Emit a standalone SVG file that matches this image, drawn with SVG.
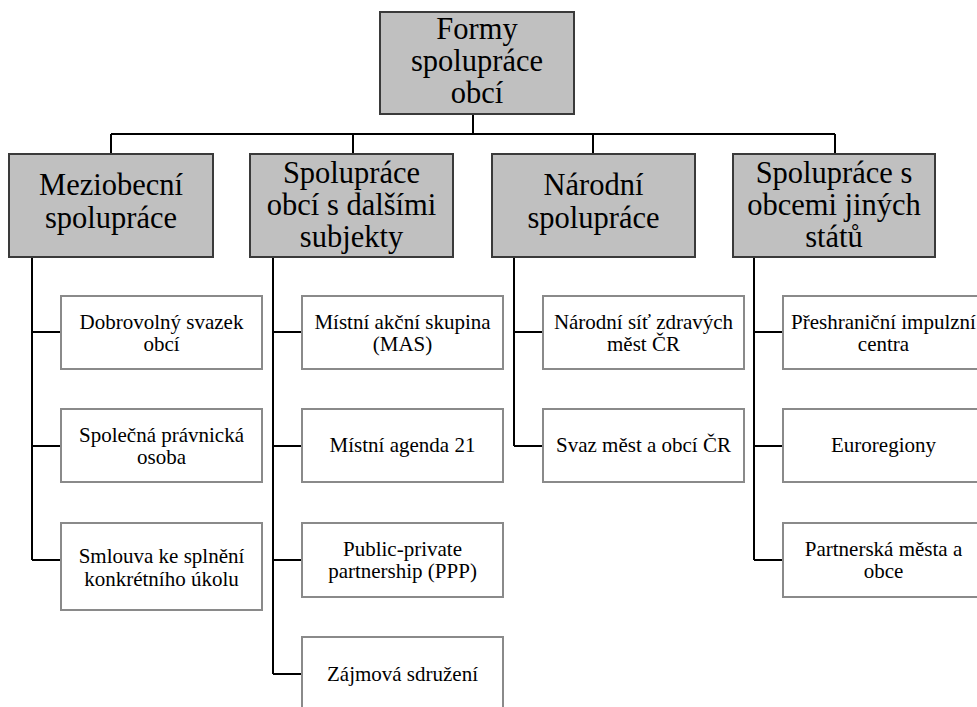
<svg xmlns="http://www.w3.org/2000/svg" width="977" height="707" viewBox="0 0 977 707">
<style>
.h{fill:#c0c0c0;stroke:#3a3a3a;stroke-width:2}
.s{fill:#fff;stroke:#8a8a8a;stroke-width:2}
.ht{font-family:'Liberation Serif','DejaVu Serif',serif;font-size:30.5px;fill:#000;text-anchor:middle}
.st{font-family:'Liberation Serif','DejaVu Serif',serif;font-size:21px;fill:#000;text-anchor:middle}
.c{stroke:#000;stroke-width:2;fill:none}
</style>
<rect width="977" height="707" fill="#fff"/>
<g id="connectors">
<path class="c" d="M473 114V134M111 134H835M111 134V154M353 134V154M593 134V154M835 134V154"/>
<path class="c" d="M32 257V560M32 332H61M32 446H61M32 560H61"/>
<path class="c" d="M273 257V674M273 332H302M273 446H302M273 560H302M273 674H302"/>
<path class="c" d="M514 257V446M514 332H543M514 446H543"/>
<path class="c" d="M754 257V560M754 332H783M754 446H783M754 560H783"/>
</g>
<g id="root">
<rect class="h" x="380" y="12" width="194" height="102"/>
<text class="ht" x="477" y="39">Formy</text>
<text class="ht" x="477" y="71">spolupráce</text>
<text class="ht" x="477" y="103">obcí</text>
</g>
<g id="meziobecni">
<rect class="h" x="9" y="154" width="204" height="103"/>
<text class="ht" x="111" y="195">Meziobecní</text>
<text class="ht" x="111" y="228">spolupráce</text>
</g>
<g id="subjekty">
<rect class="h" x="250" y="154" width="203" height="103"/>
<text class="ht" x="351.5" y="183">Spolupráce</text>
<text class="ht" x="351.5" y="215">obcí s dalšími</text>
<text class="ht" x="351.5" y="247">subjekty</text>
</g>
<g id="narodni">
<rect class="h" x="492" y="154" width="203" height="103"/>
<text class="ht" x="593.5" y="195">Národní</text>
<text class="ht" x="593.5" y="228">spolupráce</text>
</g>
<g id="zahranicni">
<rect class="h" x="733" y="154" width="202" height="103"/>
<text class="ht" x="834" y="183">Spolupráce s</text>
<text class="ht" x="834" y="215">obcemi jiných</text>
<text class="ht" x="834" y="247">států</text>
</g>
<g id="dso">
<rect class="s" x="61" y="296" width="201" height="73"/>
<text class="st" x="161.5" y="329">Dobrovolný svazek</text>
<text class="st" x="161.5" y="351">obcí</text>
</g>
<g id="spo">
<rect class="s" x="61" y="409" width="201" height="73"/>
<text class="st" x="161.5" y="442">Společná právnická</text>
<text class="st" x="161.5" y="464">osoba</text>
</g>
<g id="smlouva">
<rect class="s" x="61" y="523" width="201" height="87"/>
<text class="st" x="161.5" y="563">Smlouva ke splnění</text>
<text class="st" x="161.5" y="586">konkrétního úkolu</text>
</g>
<g id="mas">
<rect class="s" x="302" y="296" width="201" height="73"/>
<text class="st" x="402.5" y="329">Místní akční skupina</text>
<text class="st" x="402.5" y="351">(MAS)</text>
</g>
<g id="ma21">
<rect class="s" x="302" y="409" width="201" height="73"/>
<text class="st" x="402.5" y="452">Místní agenda 21</text>
</g>
<g id="ppp">
<rect class="s" x="302" y="523" width="201" height="74"/>
<text class="st" x="402.5" y="556">Public-private</text>
<text class="st" x="402.5" y="578">partnership (PPP)</text>
</g>
<g id="zajmova">
<rect class="s" x="302" y="637" width="201" height="74"/>
<text class="st" x="402.5" y="681">Zájmová sdružení</text>
</g>
<g id="nszm">
<rect class="s" x="543" y="296" width="201" height="73"/>
<text class="st" x="643.5" y="329">Národní síť zdravých</text>
<text class="st" x="643.5" y="351">měst ČR</text>
</g>
<g id="smo">
<rect class="s" x="543" y="409" width="201" height="73"/>
<text class="st" x="643.5" y="452">Svaz měst a obcí ČR</text>
</g>
<g id="impulzni">
<rect class="s" x="783" y="296" width="201" height="73"/>
<text class="st" x="883.5" y="329">Přeshraniční impulzní</text>
<text class="st" x="883.5" y="351">centra</text>
</g>
<g id="euroregiony">
<rect class="s" x="783" y="409" width="201" height="73"/>
<text class="st" x="883.5" y="452">Euroregiony</text>
</g>
<g id="partnerska">
<rect class="s" x="783" y="523" width="201" height="74"/>
<text class="st" x="883.5" y="556">Partnerská města a</text>
<text class="st" x="883.5" y="578">obce</text>
</g>
</svg>
